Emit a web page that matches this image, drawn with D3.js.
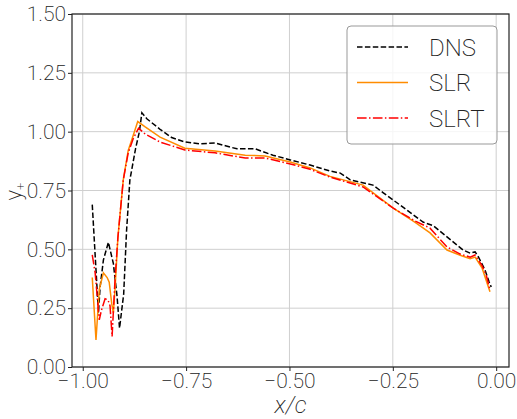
<!DOCTYPE html>
<html>
<head>
<meta charset="utf-8">
<script src="https://cdn.jsdelivr.net/npm/d3@7"></script>
<style>
  body { margin: 0; background: #fff; }
  svg { display: block; font-family: Roboto, "DejaVu Sans", sans-serif; font-weight: 200; }
</style>
</head>
<body>
<div id="chart"></div>
<script>
// values
var dnsX = [-0.977, -0.962, -0.958, -0.950, -0.938, -0.926, -0.917, -0.911, -0.901, -0.894, -0.886, -0.872, -0.863, -0.857, -0.845, -0.813, -0.785, -0.753, -0.716, -0.680, -0.655, -0.627, -0.583, -0.540, -0.498, -0.450, -0.402, -0.377, -0.353, -0.298, -0.273, -0.216, -0.177, -0.152, -0.119, -0.080, -0.063, -0.051, -0.043, -0.027, -0.017, -0.012];
var dnsY = [0.69, 0.23, 0.34, 0.455, 0.53, 0.44, 0.30, 0.165, 0.31, 0.58, 0.795, 0.93, 1.0, 1.08, 1.055, 1.01, 0.975, 0.956, 0.948, 0.952, 0.94, 0.927, 0.927, 0.90, 0.88, 0.858, 0.833, 0.824, 0.795, 0.773, 0.74, 0.667, 0.616, 0.60, 0.553, 0.497, 0.484, 0.489, 0.468, 0.412, 0.361, 0.34];

var slrX = [-0.977, -0.968, -0.960, -0.950, -0.941, -0.936, -0.930, -0.926, -0.922, -0.915, -0.902, -0.890, -0.875, -0.867, -0.849, -0.813, -0.753, -0.680, -0.607, -0.559, -0.498, -0.450, -0.402, -0.322, -0.249, -0.196, -0.160, -0.119, -0.087, -0.063, -0.051, -0.034, -0.015];
var slrY = [0.38, 0.115, 0.33, 0.40, 0.38, 0.36, 0.27, 0.23, 0.33, 0.55, 0.795, 0.92, 1.0, 1.043, 1.02, 0.977, 0.93, 0.918, 0.90, 0.897, 0.871, 0.846, 0.81, 0.773, 0.675, 0.615, 0.57, 0.497, 0.475, 0.46, 0.467, 0.42, 0.32];

var slrtX = [-0.977, -0.970, -0.965, -0.960, -0.955, -0.946, -0.939, -0.934, -0.929, -0.922, -0.915, -0.902, -0.890, -0.878, -0.865, -0.849, -0.813, -0.753, -0.680, -0.607, -0.559, -0.498, -0.450, -0.402, -0.322, -0.249, -0.196, -0.160, -0.119, -0.087, -0.063, -0.051, -0.034, -0.024, -0.015];
var slrtY = [0.476, 0.40, 0.30, 0.20, 0.24, 0.29, 0.285, 0.26, 0.13, 0.37, 0.55, 0.795, 0.91, 0.97, 1.015, 0.99, 0.956, 0.922, 0.91, 0.888, 0.888, 0.863, 0.84, 0.807, 0.765, 0.675, 0.62, 0.59, 0.51, 0.48, 0.467, 0.476, 0.43, 0.39, 0.327];

var xTicks = [-1.0, -0.75, -0.5, -0.25, 0.0];
var yTicks = [0, 0.25, 0.5, 0.75, 1.0, 1.25, 1.5];
var names = ['DNS', 'SLR', 'SLRT'];

var width = 517, height = 419;
var margin = { top: 14, right: 8, bottom: 52, left: 72 };

var svg = d3.select("#chart").append("svg")
    .attr("width", width)
    .attr("height", height);

var x = d3.scaleLinear()
    .domain([-1.026, 0.031])
    .range([margin.left, width - margin.right]);

var y = d3.scaleLinear()
    .domain([0, 1.5])
    .range([height - margin.bottom, margin.top]);

function fmt(v) {
    return d3.format(".2f")(v).replace("-", "\u2212");
}

// grid
svg.append("g").selectAll("line")
    .data(xTicks).enter().append("line")
    .attr("x1", d => x(d)).attr("x2", d => x(d))
    .attr("y1", y(0)).attr("y2", y(1.5))
    .attr("stroke", "#cfcfcf").attr("stroke-width", 1);
svg.append("g").selectAll("line")
    .data(yTicks).enter().append("line")
    .attr("x1", x.range()[0]).attr("x2", x.range()[1])
    .attr("y1", d => y(d)).attr("y2", d => y(d))
    .attr("stroke", "#cfcfcf").attr("stroke-width", 1);

var xAxis = d3.axisBottom(x).tickValues(xTicks).tickFormat(fmt).tickSize(4).tickPadding(2);
var yAxis = d3.axisLeft(y).tickValues(yTicks).tickFormat(fmt).tickSize(4).tickPadding(2);

var gx = svg.append("g")
    .attr("transform", "translate(0," + y(0) + ")")
    .call(xAxis);
var gy = svg.append("g")
    .attr("transform", "translate(" + margin.left + ",0)")
    .call(yAxis);

[gx, gy].forEach(function (g) {
    g.select(".domain").remove();
    g.selectAll("line").attr("stroke", "#222");
    g.selectAll("text")
        .attr("fill", "#222")
        .attr("font-size", "21px")
        .attr("font-family", "Roboto, sans-serif")
        .attr("font-weight", 200);
});

// frame
svg.append("rect")
    .attr("x", x.range()[0]).attr("y", y(1.5))
    .attr("width", x.range()[1] - x.range()[0])
    .attr("height", y(0) - y(1.5))
    .attr("fill", "none").attr("stroke", "#222").attr("stroke-width", 1.2);

var line = d3.line()
    .x(d => x(d[0]))
    .y(d => y(d[1]));

var series = [
    { name: names[0], pts: d3.zip(dnsX, dnsY), color: "black", dash: "5.5,2.4" },
    { name: names[1], pts: d3.zip(slrX, slrY), color: "darkorange", dash: null },
    { name: names[2], pts: d3.zip(slrtX, slrtY), color: "red", dash: "9.6,2.4,1.5,2.4" }
];

series.forEach(function (s) {
    svg.append("path")
        .datum(s.pts)
        .attr("d", line)
        .attr("fill", "none")
        .attr("stroke", s.color)
        .attr("stroke-width", 1.5)
        .attr("stroke-dasharray", s.dash);
});

// legend
var lg = svg.append("g");
lg.append("rect")
    .attr("x", 347).attr("y", 26)
    .attr("width", 150).attr("height", 118)
    .attr("rx", 4)
    .attr("fill", "white").attr("fill-opacity", 0.8)
    .attr("stroke", "#999").attr("stroke-width", 1);

series.forEach(function (s, i) {
    var yy = 47 + i * 35.5;
    lg.append("line")
        .attr("x1", 357).attr("x2", 408)
        .attr("y1", yy).attr("y2", yy)
        .attr("stroke", s.color).attr("stroke-width", 1.5)
        .attr("stroke-dasharray", s.dash);
    lg.append("text")
        .attr("x", 429).attr("y", yy + 8.5)
        .attr("font-size", "24px")
        .attr("fill", "#222")
        .text(s.name);
});

// axis labels
svg.append("text")
    .attr("x", (x.range()[0] + x.range()[1]) / 2)
    .attr("y", 413)
    .attr("text-anchor", "middle")
    .attr("font-size", "24px")
    .attr("font-style", "italic")
    .attr("fill", "#222")
    .text("x/c");

var yl = svg.append("text")
    .attr("transform", "translate(21," + (y(0.75) + 1) + ") rotate(-90)")
    .attr("text-anchor", "middle")
    .attr("font-size", "22px")
    .attr("fill", "#222");
yl.append("tspan").text("y");
yl.append("tspan").attr("font-size", "13px").attr("dy", 4).text("+");
</script>
</body>
</html>
